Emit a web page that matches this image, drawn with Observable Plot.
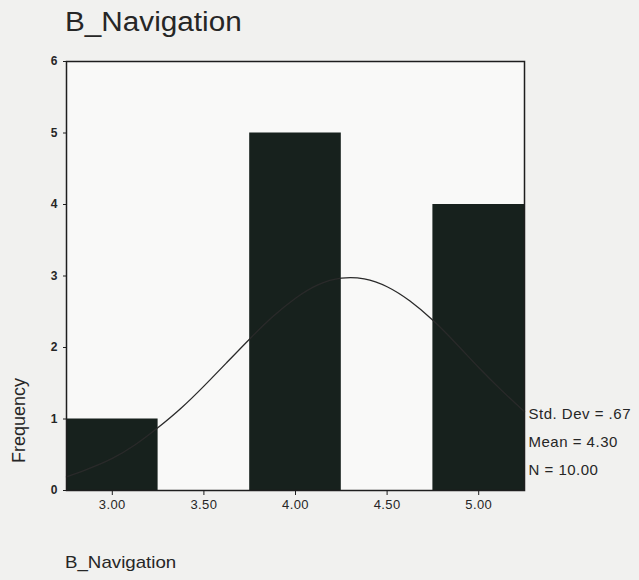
<!DOCTYPE html>
<html>
<head>
<meta charset="utf-8">
<script src="https://cdn.jsdelivr.net/npm/d3@7"></script>
<script src="https://cdn.jsdelivr.net/npm/@observablehq/plot@0.6"></script>
<style>
  body { margin: 0; background: #f1f1ef; font-family: "Liberation Sans", Arial, sans-serif; }
  #wrap { position: relative; width: 639px; height: 580px; overflow: hidden; }
  #title { position: absolute; left: 65px; top: 7px; font-size: 27px; color: #262626; transform: scaleX(1.1); transform-origin: left top; white-space: nowrap; }
  #xlabel { position: absolute; left: 65px; top: 553px; font-size: 17px; color: #262626; transform: scaleX(1.1); transform-origin: left top; white-space: nowrap; }
  #chart { position: absolute; left: 0; top: 0; }
  .stats text { letter-spacing: 0.5px; }
  .xax text { letter-spacing: 0.4px; }
</style>
</head>
<body>
<div id="wrap">
  <div id="chart"></div>
  <div id="title">B_Navigation</div>
  <div id="xlabel">B_Navigation</div>
</div>
<script>
// Histogram bins (centre, frequency)
const binCenters = [3.0, 4.0, 5.0];
const frequencies = [1, 5, 4];
const binWidth = 0.5;

// Normal curve
const curveX = [2.75, 2.875, 3.0, 3.125, 3.25, 3.375, 3.5, 3.625, 3.75, 3.875, 4.0, 4.125, 4.25, 4.375, 4.5, 4.625, 4.75, 4.875, 5.0, 5.125, 5.25];
const curveY = [0.19, 0.31, 0.45, 0.64, 0.88, 1.15, 1.46, 1.79, 2.12, 2.43, 2.69, 2.88, 2.97, 2.96, 2.85, 2.65, 2.38, 2.06, 1.72, 1.40, 1.10];

const xTicks = [3.0, 3.5, 4.0, 4.5, 5.0];
const yTicks = [0, 1, 2, 3, 4, 5, 6];
const statsLabels = ["Std. Dev = .67", "Mean = 4.30", "N = 10.00"];
const yLabel = "Frequency";

const bars = binCenters.map((c, i) => ({x1: c - binWidth / 2, x2: c + binWidth / 2, y: frequencies[i]}));
const curve = curveX.map((x, i) => ({x, y: curveY[i]}));

const chart = Plot.plot({
  width: 639,
  height: 580,
  marginTop: 61,
  marginRight: 115,
  marginBottom: 90,
  marginLeft: 66,
  style: { background: "transparent", fontFamily: "Liberation Sans, Arial, sans-serif", color: "#262626" },
  x: { domain: [2.75, 5.25] },
  y: { domain: [0, 6] },
  marks: [
    Plot.frame({ fill: "#f9f9f8" }),
    Plot.rectY(bars, { x1: "x1", x2: "x2", y: "y", fill: "#17211d", inset: 0 }),
    Plot.line(curve, { x: "x", y: "y", curve: "natural", stroke: "#2a2a2a", strokeWidth: 1.3 }),
    Plot.frame({ stroke: "#1e1e1e", strokeWidth: 1.5 }),
    Plot.axisX({ ticks: xTicks, tickFormat: d => d.toFixed(2), tickSize: 5, tickPadding: 4, fontSize: 13, label: null, stroke: "#1e1e1e", className: "xax" }),
    Plot.axisY({ ticks: yTicks, tickFormat: d => String(d), tickSize: 3, tickPadding: 6, fontSize: 12, fontWeight: "bold", label: null, stroke: "#1e1e1e" }),
    ...statsLabels.map((s, i) => Plot.text([s], {
      text: d => d,
      frameAnchor: "bottom-right",
      textAnchor: "start",
      lineAnchor: "middle",
      dx: 4,
      dy: -76 + 28 * i,
      fontSize: 15,
      fill: "#262626",
      className: "stats"
    })),
    Plot.text([yLabel], {
      text: d => d,
      frameAnchor: "bottom-left",
      rotate: -90,
      textAnchor: "middle",
      lineAnchor: "middle",
      dx: -47,
      dy: -70,
      fontSize: 18,
      fill: "#262626"
    })
  ]
});
document.getElementById("chart").appendChild(chart);
</script>
</body>
</html>
